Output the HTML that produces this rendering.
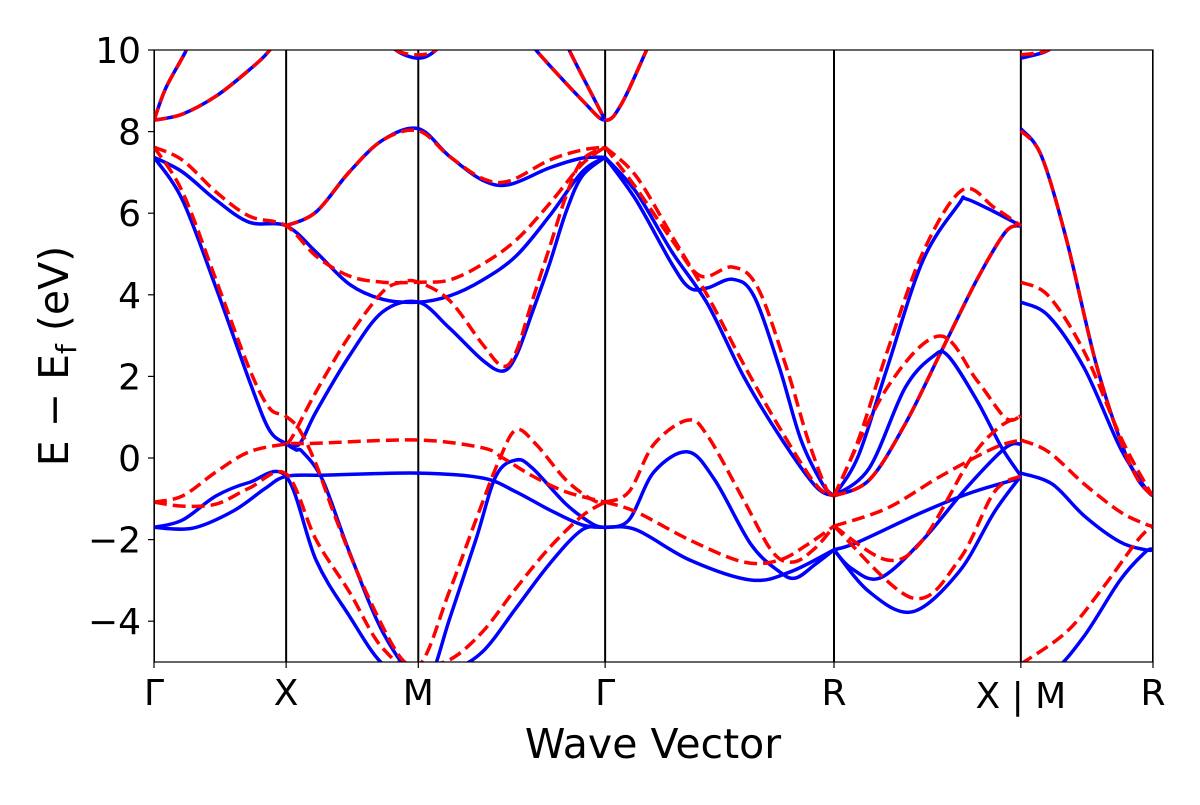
<!DOCTYPE html>
<html><head><meta charset="utf-8"><style>
body{margin:0;background:#fff;}
svg text{font-family:"DejaVu Sans","Liberation Sans",sans-serif;fill:#000;}
</style></head><body>
<svg id="chart" width="1200" height="800" viewBox="0 0 1200 800">
<defs><clipPath id="plotclip"><rect x="154" y="50" width="999" height="612"/></clipPath></defs>
<g id="bands" clip-path="url(#plotclip)"></g>
<g id="axes"></g>
<text x="653" y="758" text-anchor="middle" font-size="41">Wave Vector</text>
<text transform="translate(68,356) rotate(-90)" text-anchor="middle" font-size="41">E − E<tspan font-size="28" dy="8">f</tspan><tspan dy="-8"> (eV)</tspan></text>
</svg>
<script>
const kTicks=[0,0.5,1.0,1.707,2.573,3.28,3.78];
const kLabels=["Γ","X","M","Γ","R","X | M","R"];
const yTicks=[-4,-2,0,2,4,6,8,10];
const eMin=-5, eMax=10;
const blueBands=[
[[0,-1.7],[0.146,-1.72],[0.3,-1.3],[0.42,-0.75],[0.5,-0.45],[0.65,-0.42],[1.0,-0.37],[1.243,-0.49],[1.37,-0.83],[1.496,-1.27],[1.62,-1.64],[1.707,-1.7]],
[[0,-1.7],[0.108,-1.52],[0.235,-0.93],[0.36,-0.6],[0.5,-0.45],[0.613,-2.5],[0.739,-3.87],[0.865,-5.05],[1.0,-5.5],[1.117,-5.25],[1.243,-4.75],[1.37,-3.68],[1.496,-2.6],[1.62,-1.76],[1.707,-1.7]],
[[0,7.37],[0.108,6.32],[0.235,4.17],[0.36,1.91],[0.436,0.69],[0.5,0.35],[0.537,0.2],[0.562,0.15],[0.638,-0.54],[0.739,-2.3],[0.865,-4.26],[1.0,-5.5],[1.054,-5.25],[1.117,-3.97],[1.218,-2.0],[1.294,-0.44],[1.37,-0.05],[1.432,-0.25],[1.559,-1.13],[1.66,-1.62],[1.707,-1.7]],
[[0.5,0.35],[0.55,0.34],[0.613,1.13],[0.739,2.5],[0.865,3.58],[1.0,3.82],[1.117,3.19],[1.243,2.4],[1.319,2.13],[1.37,2.5],[1.432,3.58],[1.496,4.75],[1.559,6.03],[1.62,6.91],[1.707,7.37]],
[[0,7.37],[0.108,7.01],[0.235,6.32],[0.36,5.78],[0.5,5.69],[0.613,5.05],[0.739,4.26],[0.865,3.89],[1.0,3.82],[1.117,3.97],[1.243,4.36],[1.37,4.95],[1.496,5.93],[1.62,7.01],[1.707,7.37]],
[[0.5,5.69],[0.613,6.03],[0.739,7.01],[0.865,7.79],[1.0,8.07],[1.117,7.4],[1.243,6.81],[1.344,6.7],[1.496,7.11],[1.62,7.35],[1.707,7.37]],
[[0,8.28],[0.045,9.07],[0.121,9.98],[0.16,10.6]],
[[0,8.28],[0.108,8.43],[0.235,8.87],[0.36,9.51],[0.436,9.98],[0.5,10.6]],
[[0.88,10.4],[0.915,10],[1.0,9.8],[1.067,10],[1.1,10.4]],
[[1.42,10.3],[1.445,10],[1.62,8.77],[1.707,8.28],[1.769,8.68],[1.864,10],[1.9,10.5]],
[[1.55,10.4],[1.571,10],[1.66,8.87],[1.707,8.28]],
[[1.707,7.37],[1.824,6.32],[1.96,4.75],[2.027,4.17],[2.095,4.17],[2.19,4.38],[2.27,3.97],[2.367,2.2],[2.448,0.44],[2.53,-0.64],[2.573,-0.93]],
[[1.707,7.37],[1.824,6.52],[1.96,5.05],[2.095,3.77],[2.231,2.0],[2.367,0.54],[2.503,-0.69],[2.573,-0.93]],
[[1.707,-1.7],[1.797,-1.52],[1.892,-0.34],[2.02,0.15],[2.122,-0.54],[2.258,-2.11],[2.367,-2.79],[2.428,-2.94],[2.503,-2.6],[2.573,-2.25]],
[[1.707,-1.7],[1.824,-1.76],[2.027,-2.5],[2.258,-2.99],[2.408,-2.79],[2.573,-2.25]],
[[2.573,-0.93],[2.665,0.05],[2.774,2.2],[2.91,4.85],[3.046,6.23],[3.073,6.35],[3.181,6.03],[3.28,5.69]],
[[2.573,-0.93],[2.706,-0.54],[2.842,0.83],[2.978,2.6],[3.113,4.36],[3.222,5.54],[3.28,5.69]],
[[2.573,-0.93],[2.706,-0.25],[2.842,1.72],[2.95,2.5],[3.005,2.5],[3.113,1.42],[3.208,0.25],[3.28,-0.44]],
[[2.573,-2.25],[2.665,-2.06],[2.91,-1.32],[3.1,-0.83],[3.28,-0.49]],
[[2.573,-2.25],[2.638,-2.7],[2.747,-2.94],[2.91,-2.0],[3.073,-0.74],[3.222,0.25],[3.28,0.34]],
[[2.573,-2.25],[2.706,-3.28],[2.869,-3.77],[3.046,-2.79],[3.18,-1.32],[3.28,-0.44]],
[[3.28,8.07],[3.358,7.4],[3.453,5.34],[3.561,2.4],[3.656,0.44],[3.724,-0.54],[3.78,-0.93]],
[[3.28,3.82],[3.385,3.48],[3.52,2.2],[3.656,0.25],[3.752,-0.74],[3.78,-0.93]],
[[3.28,-0.37],[3.399,-0.64],[3.52,-1.42],[3.656,-2.06],[3.752,-2.25],[3.78,-2.25]],
[[3.28,-5.5],[3.399,-5.25],[3.52,-4.36],[3.656,-2.99],[3.752,-2.3],[3.78,-2.25]],
[[3.28,9.8],[3.385,10],[3.42,10.4]]
];
const redBands=[
[[0,-1.08],[0.108,-1.18],[0.235,-1.13],[0.36,-0.74],[0.5,-0.39],[0.613,-2.0],[0.739,-3.28],[0.865,-4.66],[1.0,-5.1],[1.117,-3.28],[1.218,-1.52],[1.306,-0.05],[1.37,0.69],[1.445,0.34],[1.559,-0.54],[1.66,-1.03],[1.707,-1.08]],
[[0,-1.08],[0.108,-0.93],[0.235,-0.34],[0.36,0.15],[0.5,0.34],[0.613,0.36],[1.0,0.44],[1.243,0.25],[1.32,0.0],[1.432,-0.44],[1.559,-0.83],[1.707,-1.08]],
[[0,7.62],[0.108,6.52],[0.235,4.36],[0.36,2.2],[0.436,1.23],[0.497,1.03],[0.55,0.69],[0.613,-0.15],[0.69,-1.52],[0.802,-3.28],[0.928,-4.85],[1.0,-5.05],[1.117,-4.95],[1.243,-4.26],[1.37,-3.19],[1.496,-2.2],[1.62,-1.42],[1.707,-1.08]],
[[0.5,0.34],[0.525,0.54],[0.613,1.62],[0.739,2.99],[0.865,4.07],[0.94,4.31],[1.0,4.31],[1.117,3.87],[1.243,2.79],[1.319,2.25],[1.37,2.6],[1.432,3.87],[1.496,5.15],[1.559,6.42],[1.62,7.3],[1.707,7.62]],
[[0,7.62],[0.108,7.3],[0.235,6.52],[0.36,5.93],[0.5,5.69],[0.613,4.95],[0.739,4.46],[0.865,4.31],[1.0,4.31],[1.117,4.36],[1.243,4.75],[1.37,5.34],[1.496,6.23],[1.62,7.2],[1.707,7.62]],
[[0.5,5.69],[0.613,6.03],[0.739,7.01],[0.865,7.79],[1.0,8.02],[1.117,7.4],[1.243,6.85],[1.344,6.79],[1.496,7.3],[1.62,7.55],[1.707,7.62]],
[[0,8.28],[0.045,9.07],[0.121,9.98],[0.16,10.6]],
[[0,8.28],[0.108,8.43],[0.235,8.87],[0.36,9.51],[0.436,9.98],[0.5,10.6]],
[[0.88,10.4],[0.915,10],[1.0,9.88],[1.067,10],[1.1,10.4]],
[[1.42,10.3],[1.445,10],[1.62,8.77],[1.707,8.28],[1.769,8.68],[1.864,10],[1.9,10.5]],
[[1.55,10.4],[1.571,10],[1.66,8.87],[1.707,8.28]],
[[1.707,7.62],[1.824,6.62],[1.96,5.34],[2.068,4.46],[2.19,4.68],[2.285,4.17],[2.394,2.2],[2.475,0.44],[2.543,-0.74],[2.573,-0.93]],
[[1.707,7.62],[1.824,6.91],[1.96,5.44],[2.095,3.97],[2.231,2.3],[2.367,0.74],[2.503,-0.64],[2.573,-0.93]],
[[1.707,-1.08],[1.797,-0.83],[1.892,0.34],[2.02,0.93],[2.095,0.54],[2.231,-1.03],[2.34,-2.3],[2.42,-2.55],[2.503,-2.2],[2.573,-1.67]],
[[1.707,-1.08],[1.824,-1.32],[2.027,-2.01],[2.231,-2.55],[2.367,-2.5],[2.475,-2.11],[2.573,-1.67]],
[[2.573,-0.93],[2.665,0.44],[2.774,2.6],[2.91,5.05],[3.059,6.57],[3.181,6.13],[3.28,5.69]],
[[2.573,-0.93],[2.706,-0.54],[2.842,0.83],[2.978,2.6],[3.113,4.36],[3.222,5.54],[3.28,5.69]],
[[2.573,-0.93],[2.774,1.72],[2.971,2.99],[3.113,1.91],[3.222,0.98],[3.28,1.03]],
[[2.573,-1.67],[2.774,-1.23],[2.978,-0.44],[3.18,0.25],[3.28,0.44]],
[[2.573,-1.67],[2.774,-2.5],[2.91,-2.0],[3.087,-0.05],[3.195,0.74],[3.28,1.03]],
[[2.573,-1.67],[2.869,-3.43],[3.046,-2.5],[3.18,-0.83],[3.28,-0.44]],
[[3.28,8.02],[3.358,7.4],[3.453,5.34],[3.561,2.4],[3.656,0.44],[3.724,-0.54],[3.78,-0.93]],
[[3.28,4.31],[3.385,3.97],[3.52,2.6],[3.656,0.54],[3.752,-0.64],[3.78,-0.93]],
[[3.28,0.44],[3.385,0.15],[3.52,-0.64],[3.656,-1.32],[3.752,-1.62],[3.78,-1.67]],
[[3.28,-5.05],[3.453,-4.26],[3.589,-3.19],[3.724,-2.0],[3.78,-1.67]],
[[3.28,9.88],[3.385,10],[3.42,10.4]]
];
const NS="http://www.w3.org/2000/svg";
const X0=154,X1=1153,Y0=662,Y1=50;
const kMax=kTicks[kTicks.length-1];
function xs(k){return X0+(k/kMax)*(X1-X0);}
function ys(e){return Y0-(e-eMin)/(eMax-eMin)*(Y0-Y1);}
function pathFor(pts){
  const p=pts.map(d=>[xs(d[0]),ys(d[1])]);
  let s="M"+p[0][0].toFixed(1)+","+p[0][1].toFixed(1);
  for(let i=0;i<p.length-1;i++){
    const a=p[Math.max(i-1,0)],b=p[i],c=p[i+1],d=p[Math.min(i+2,p.length-1)];
    const c1=[b[0]+(c[0]-a[0])/6,b[1]+(c[1]-a[1])/6];
    const c2=[c[0]-(d[0]-b[0])/6,c[1]-(d[1]-b[1])/6];
    s+="C"+c1[0].toFixed(1)+","+c1[1].toFixed(1)+" "+c2[0].toFixed(1)+","+c2[1].toFixed(1)+" "+c[0].toFixed(1)+","+c[1].toFixed(1);
  }
  return s;
}
const gB=document.getElementById("bands");
const gA=document.getElementById("axes");
kTicks.forEach((k,i)=>{
  const l=document.createElementNS(NS,"line");
  
  
  l.setAttribute("x1",xs(k));l.setAttribute("x2",xs(k));
  l.setAttribute("y1",Y1);l.setAttribute("y2",Y0);
  l.setAttribute("stroke","#000");l.setAttribute("stroke-width","2");
  gB.appendChild(l);
});
blueBands.forEach(b=>{
  const p=document.createElementNS(NS,"path");
  
  
  p.setAttribute("d",pathFor(b));
  p.setAttribute("fill","none");p.setAttribute("stroke","#0000ff");p.setAttribute("stroke-width","3.5");
  gB.appendChild(p);
});
redBands.forEach(b=>{
  const p=document.createElementNS(NS,"path");
  
  
  p.setAttribute("d",pathFor(b));
  p.setAttribute("fill","none");p.setAttribute("stroke","#ff0000");p.setAttribute("stroke-width","3.5");
  p.setAttribute("stroke-dasharray","13,6");
  gB.appendChild(p);
});
const fr=document.createElementNS(NS,"rect");


fr.setAttribute("x",X0);fr.setAttribute("y",Y1);fr.setAttribute("width",X1-X0);fr.setAttribute("height",Y0-Y1);
fr.setAttribute("fill","none");fr.setAttribute("stroke","#000");fr.setAttribute("stroke-width","1.2");
gA.appendChild(fr);
yTicks.forEach(v=>{
  const t=document.createElementNS(NS,"line");
  
  
  t.setAttribute("x1",X0-6);t.setAttribute("x2",X0);t.setAttribute("y1",ys(v));t.setAttribute("y2",ys(v));
  t.setAttribute("stroke","#000");t.setAttribute("stroke-width","1.2");
  gA.appendChild(t);
  const tx=document.createElementNS(NS,"text");
  
  
  tx.setAttribute("x",X0-13);tx.setAttribute("y",ys(v)+13);
  tx.setAttribute("text-anchor","end");tx.setAttribute("font-size","36");
  tx.textContent=(v<0?"\u2212"+Math.abs(v):String(v));
  gA.appendChild(tx);
});
kTicks.forEach((k,i)=>{
  const t=document.createElementNS(NS,"line");
  
  
  t.setAttribute("x1",xs(k));t.setAttribute("x2",xs(k));t.setAttribute("y1",Y0);t.setAttribute("y2",Y0+6);
  t.setAttribute("stroke","#000");t.setAttribute("stroke-width","1.2");
  gA.appendChild(t);
  const tx=document.createElementNS(NS,"text");
  
  
  tx.setAttribute("x",xs(k));tx.setAttribute("y",i===5?708:705);
  tx.setAttribute("text-anchor","middle");tx.setAttribute("font-size","36");
  tx.textContent=kLabels[i];
  gA.appendChild(tx);
});
</script>
</body></html>
